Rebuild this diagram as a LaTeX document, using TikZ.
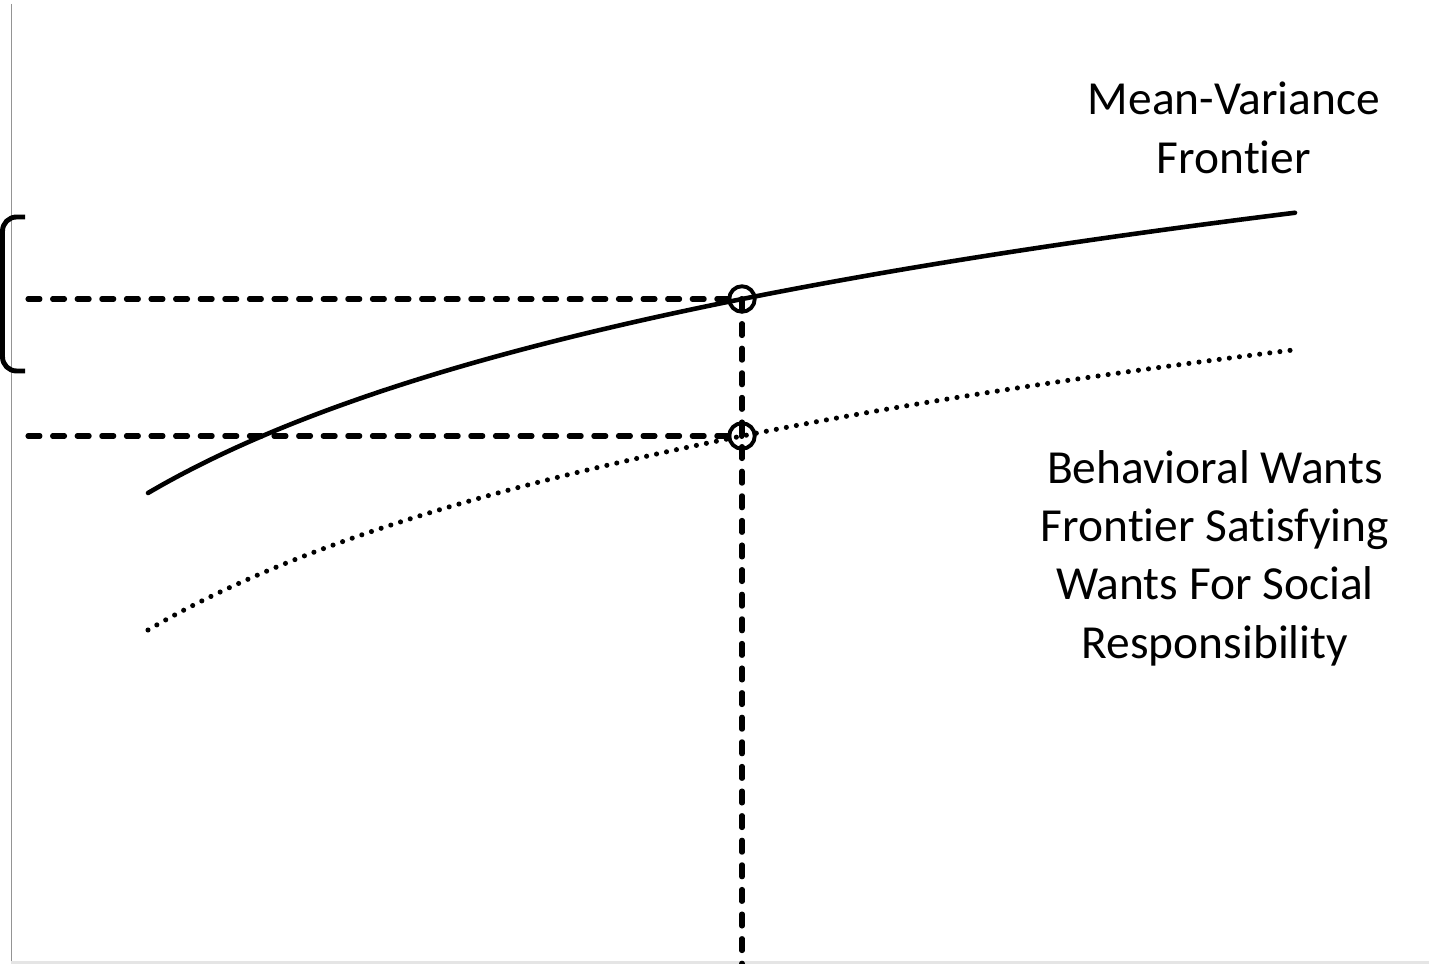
\documentclass[tikz,border=0pt]{standalone}
\usepackage{fontspec}
\setmainfont[Ligatures={NoCommon,NoContextual}]{Carlito}
\begin{document}
\begin{tikzpicture}[x=0.1mm,y=-0.1mm,
  frontier/.style={line width=1.3pt,line cap=round},
  wants/.style={line width=1.45pt,line cap=round,dash pattern=on 0pt off 2.9pt},
  guide/.style={line width=1.45pt,line cap=round,dash pattern=on 3.4pt off 3.6pt},
  marker/.style={circle,draw,line width=1.1pt,minimum size=2.55mm,inner sep=0pt,fill=none},
  label/.style={align=center,font=\fontsize{13.5pt}{16.6pt}\selectfont}]
\useasboundingbox (0,0) rectangle (1429,964);
% axes
\draw[line width=0.45pt,color=black!42] (11.5,4) -- (11.5,964);
\draw[line width=0.6pt,color=black!10] (11.5,962.5) -- (1429,962.5);
% bracket
\draw[line width=1.4pt,rounded corners=4pt] (25,217) -- (2.5,217) -- (2.5,371) -- (25,371);
% frontiers
\draw[frontier] plot[domain=148:1295,samples=80,smooth] (\x,{493-180.5*(ln(\x+160)-ln(308))});
\draw[wants] plot[domain=148:1293,samples=80,smooth] (\x,{630-180.5*(ln(\x+160)-ln(308))});
% points
\coordinate (pm) at (742,299);
\coordinate (pw) at (742,436);
\coordinate (lm) at (28,299);
\coordinate (lw) at (28,436);
\coordinate (bot) at (742,966);
\draw[guide] (lm) -- (pm);
\draw[guide] (lw) -- (pw);
\draw[guide] (pm) -- (bot);
\node[marker] (cm) at (pm) {};
\node[marker] (cw) at (pw) {};
% labels
\node[label] (tm) at (1234,128) {Mean-Variance\\Frontier};
\node[label] (tw) at (1215,558) {Behavioral Wants\\Frontier Satisfying\\Wants For Social\\Responsibility};
\end{tikzpicture}
\end{document}
